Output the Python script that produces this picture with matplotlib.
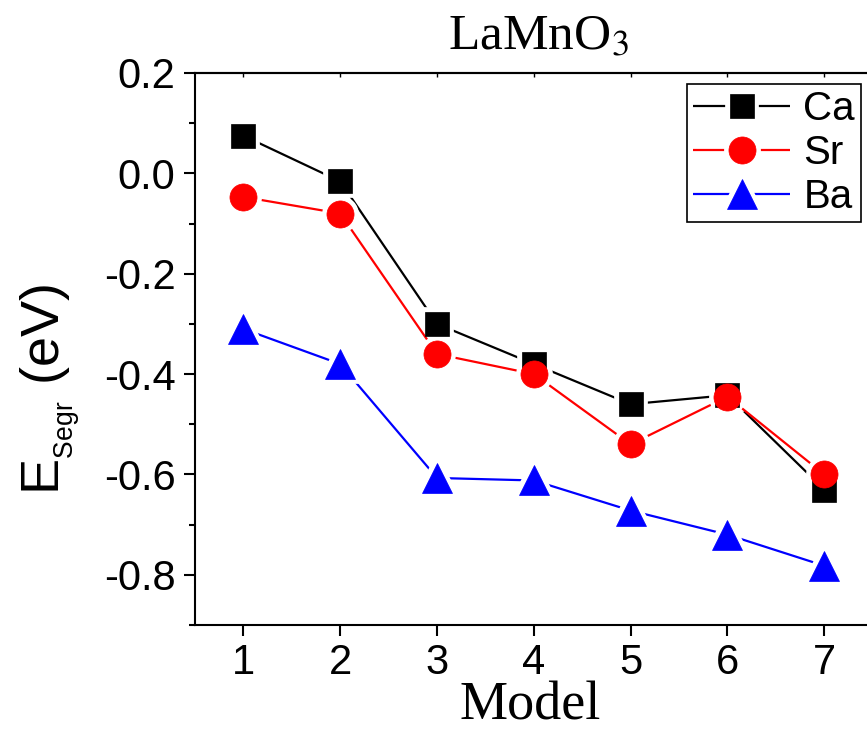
import matplotlib
matplotlib.use("Agg")
import matplotlib.pyplot as plt
from matplotlib.lines import Line2D
from matplotlib.legend_handler import HandlerTuple
from matplotlib.ticker import MultipleLocator

# Segregation energy (eV) of the A-site dopant for each surface model
models = [1, 2, 3, 4, 5, 6, 7]
e_ca = [0.075, -0.016, -0.30, -0.38, -0.46, -0.442, -0.63]
e_sr = [-0.047, -0.080, -0.36, -0.40, -0.54, -0.445, -0.60]
e_ba = [-0.31, -0.38, -0.607, -0.612, -0.672, -0.72, -0.782]
labels = ["Ca", "Sr", "Ba"]
title = "LaMnO$_3$"

plt.rcParams.update({
    "font.family": ["Liberation Sans", "DejaVu Sans"],
    "mathtext.fontset": "custom",
    "mathtext.rm": "Liberation Sans",
    "mathtext.it": "Liberation Sans:italic",
    "mathtext.bf": "Liberation Sans:bold",
    "axes.unicode_minus": False,
})

fig = plt.figure(figsize=(8.67, 7.32), dpi=100)
ax = fig.add_axes([195 / 867, 107 / 732, 677.7 / 867, 552 / 732])

styles = [
    dict(color="black", marker="s", ms=17),
    dict(color="red", marker="o", ms=19.5),
    dict(color="blue", marker="^", ms=21),
]
series = [e_ca, e_sr, e_ba]

handles = []
for i, (vals, st) in enumerate(zip(series, styles)):
    # connecting line
    ax.plot(models, vals, color=st["color"], lw=1.6, zorder=2 + 0.1 * i,
            solid_capstyle="butt")
    # white halo leaves a small gap between the line and each symbol
    ax.plot(models, vals, ls="none", marker=st["marker"], ms=st["ms"],
            mfc="white", mec="white", mew=7, zorder=2.05 + 0.1 * i)
for i, (vals, st) in enumerate(zip(series, styles)):
    ax.plot(models, vals, ls="none", marker=st["marker"], ms=st["ms"],
            mfc=st["color"], mec=st["color"], mew=0.5, zorder=3 + 0.1 * i)

for st in styles:
    h_line = Line2D([], [], color=st["color"], lw=1.6, solid_capstyle="butt")
    h_halo = Line2D([], [], ls="none", marker=st["marker"], ms=st["ms"],
                    mfc="white", mec="white", mew=7)
    h_mark = Line2D([], [], ls="none", marker=st["marker"], ms=st["ms"],
                    mfc=st["color"], mec=st["color"], mew=0.5)
    handles.append((h_line, h_halo, h_mark))

leg = ax.legend(handles, labels, handler_map={tuple: HandlerTuple(ndivide=1, pad=0)},
                loc="upper right", bbox_to_anchor=(861 / 867, 648 / 732),
                bbox_transform=fig.transFigure, frameon=True, fancybox=False,
                edgecolor="black", framealpha=1, borderpad=0.15, handlelength=2.4,
                handletextpad=0.33, labelspacing=0.15, borderaxespad=0, fontsize=29)
leg.get_frame().set_linewidth(1.2)

ax.set_xlim(0.5, 7.5)
ax.set_ylim(-0.9, 0.2)
ax.xaxis.set_major_locator(MultipleLocator(1))
ax.yaxis.set_major_locator(MultipleLocator(0.2))
ax.yaxis.set_minor_locator(MultipleLocator(0.1))
ax.tick_params(axis="both", which="major", direction="out", length=8, width=1.5,
               labelsize=30, pad=6)
ax.tick_params(axis="x", which="major", pad=5)
ax.tick_params(axis="y", which="minor", direction="out", length=4, width=1.5)
for sp in ax.spines.values():
    sp.set_linewidth(1.5)

top = ax.secondary_xaxis("top")
top.xaxis.set_major_locator(MultipleLocator(1))
top.tick_params(direction="in", length=3, width=1, labeltop=False)
top.spines["top"].set_linewidth(1.5)

ax.set_xlabel("Model", family="Liberation Serif", size=39)
ax.xaxis.label.set_va("bottom")
ax.xaxis.set_label_coords(0.494, -0.193)

ax.set_ylabel(r"E$_{_{\mathrm{Segr}}}$ (eV)", size=39)
ax.yaxis.label.set_va("center")
ax.yaxis.set_label_coords(-0.214, 0.426)

fig.text(539 / 867, 1 - 50 / 732, title, family="Liberation Serif",
         math_fontfamily="stix", size=37, ha="center", va="baseline")

fig.savefig("out.png", dpi=100)
